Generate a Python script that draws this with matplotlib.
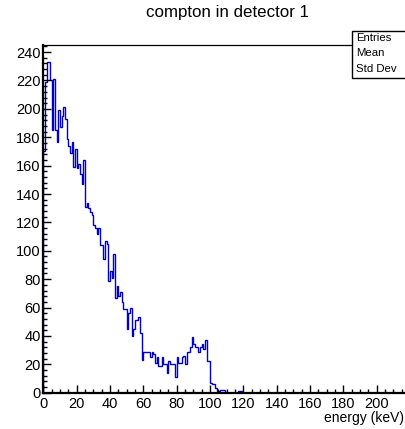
import numpy as np
import matplotlib
matplotlib.use("Agg")
import matplotlib.pyplot as plt
from matplotlib.ticker import MultipleLocator
from matplotlib.patches import Rectangle

plt.rcParams['font.family'] = ['Liberation Sans', 'DejaVu Sans']

# ─── Histogram contents (1 keV bins starting at 0 keV) ───
counts = [
    170, 219, 233, 233, 220, 185, 221, 185, 177, 199,
    187, 195, 201, 193, 179, 174, 169, 177, 159, 172,
    158, 161, 154, 147, 164, 131, 134, 130, 127, 125,
    118, 116, 112, 116, 104, 104, 94, 107, 105, 79,
    86, 81, 98, 67, 75, 68, 71, 64, 59, 59,
    45, 56, 60, 40, 45, 51, 51, 53, 42, 23,
    29, 29, 29, 29, 25, 29, 27, 21, 25, 19,
    19, 25, 20, 20, 14, 22, 20, 20, 20, 11,
    25, 21, 21, 25, 26, 20, 29, 29, 32, 39,
    34, 32, 32, 29, 32, 34, 31, 37, 22, 22,
    7, 6, 6, 3, 1, 1, 2, 2, 2, 0,
    0, 0, 0, 0, 0, 0, 0, 1, 1, 0,
]
bin_width = 1.0
stats_labels = ["Entries", "Mean", "Std Dev"]
title = "compton in detector 1"
xlabel = "energy (keV)"

edges = np.arange(len(counts) + 1) * bin_width

W, H = 406, 429
fig = plt.figure(figsize=(W / 100, H / 100), dpi=100)

# ROOT-like frame; the picture is cropped at the right edge
left_px, bottom_px, top_px = 43.3, 392.7, 45.0
px_per_kev = 1.667
x_max = (W - left_px) / px_per_kev
ax = fig.add_axes([left_px / W, (H - bottom_px) / H,
                   (W - left_px) / W, (bottom_px - top_px) / H])

ax.stairs(counts, edges, color='#0000cc', linewidth=1.0)

ax.set_xlim(0, x_max)
ax.set_ylim(0, 245)
ax.xaxis.set_major_locator(MultipleLocator(20))
ax.xaxis.set_minor_locator(MultipleLocator(5))
ax.yaxis.set_major_locator(MultipleLocator(20))
ax.yaxis.set_minor_locator(MultipleLocator(4))
ax.tick_params(which='both', direction='in', top=False, right=False,
               labelsize=10.5, width=1.0, color='black')
ax.tick_params(which='major', length=6)
ax.tick_params(which='minor', length=3)
ax.tick_params(axis='x', pad=3)
ax.tick_params(axis='y', pad=2)

for side in ['left', 'bottom']:
    ax.spines[side].set_linewidth(1.6)
ax.spines['top'].set_linewidth(0.9)
ax.spines['right'].set_visible(False)

# Title and axis label
fig.text(228 / W, 1 - 13 / H, title, ha='center', va='center', fontsize=12.2)
fig.text(404 / W, 1 - 418 / H, xlabel, ha='right', va='center', fontsize=10)

# Stats box (values are cut off in the picture)
box = Rectangle((352 / W, 1 - 78 / H), (W - 352) / W + 0.01, 47 / H,
                transform=fig.transFigure, facecolor='white',
                edgecolor='black', linewidth=1.0, zorder=10)
fig.add_artist(box)
for i, lab in enumerate(stats_labels):
    fig.text(356 / W, 1 - (38 + 15.5 * i) / H, lab, ha='left', va='center',
             fontsize=8.2, zorder=11)

fig.savefig("out.png", dpi=100)
